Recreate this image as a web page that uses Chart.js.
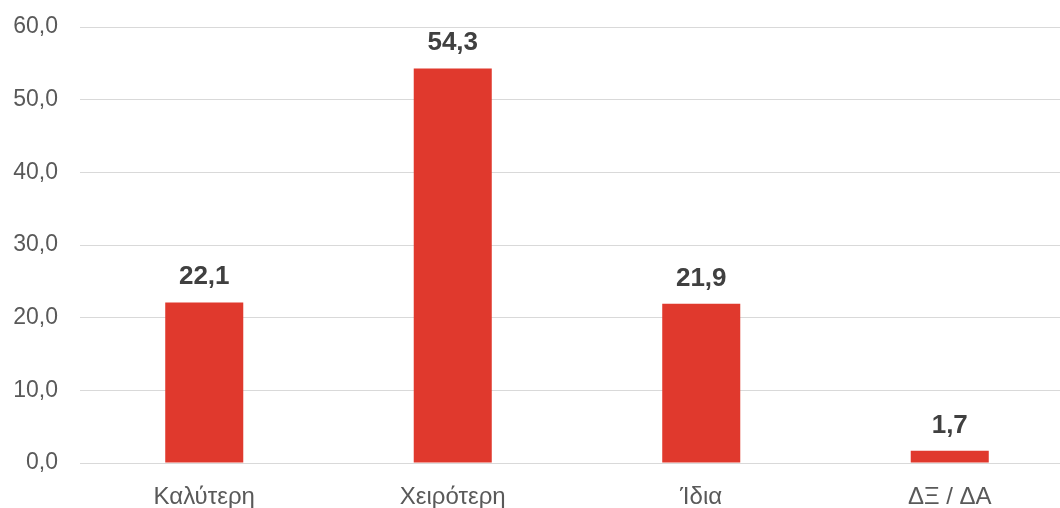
<!DOCTYPE html>
<html>
<head>
<meta charset="utf-8">
<script src="https://cdn.jsdelivr.net/npm/chart.js@4"></script>
<style>
  html, body { margin: 0; padding: 0; background: #fff; overflow: hidden; }
</style>
</head>
<body>
<canvas id="chart" width="1074" height="508"></canvas>
<script>
const categories = ['Καλύτερη', 'Χειρότερη', 'Ίδια', 'ΔΞ / ΔΑ'];
const values = [22.1, 54.3, 21.9, 1.7];
const yTicks = [0, 10, 20, 30, 40, 50, 60];

const FONT = '"Liberation Sans", Arial, sans-serif';
const fmt = v => v.toFixed(1).replace('.', ',');

// bold value written above each bar
const valueLabels = {
  id: 'valueLabels',
  afterDatasetsDraw(chart) {
    const { ctx } = chart;
    const meta = chart.getDatasetMeta(0);
    ctx.save();
    ctx.font = 'bold 26px ' + FONT;
    ctx.fillStyle = '#404040';
    ctx.textAlign = 'center';
    ctx.textBaseline = 'alphabetic';
    meta.data.forEach((bar, i) => {
      ctx.fillText(fmt(values[i]), bar.x, bar.y - 18);
    });
    ctx.restore();
  }
};

const ctx = document.getElementById('chart');

new Chart(ctx, {
  type: 'bar',
  data: {
    labels: categories,
    datasets: [{
      data: values,
      backgroundColor: '#E0392D',
      barPercentage: 0.314,
      categoryPercentage: 1
    }]
  },
  options: {
    responsive: false,
    animation: false,
    layout: { padding: { top: 27, right: 0, bottom: 0, left: 0 } },
    plugins: {
      legend: { display: false },
      tooltip: { enabled: false }
    },
    scales: {
      x: {
        grid: { display: false },
        border: { display: false },
        ticks: {
          color: '#595959',
          font: { family: FONT, size: 24 },
          padding: 12,
          maxRotation: 0
        },
        afterFit: s => { s.height = 45; }
      },
      y: {
        min: 0,
        max: 60,
        afterBuildTicks: s => { s.ticks = yTicks.map(v => ({ value: v })); },
        grid: { color: '#D9D9D9', lineWidth: 1, drawTicks: false },
        border: { display: false },
        ticks: {
          color: '#595959',
          font: { family: FONT, size: 23 },
          padding: 22,
          callback: v => fmt(v)
        },
        afterFit: s => {
          s.width = 80;
          s.paddingTop = 0;
          s.paddingBottom = 0;
        }
      }
    }
  },
  plugins: [valueLabels]
});
</script>
</body>
</html>
